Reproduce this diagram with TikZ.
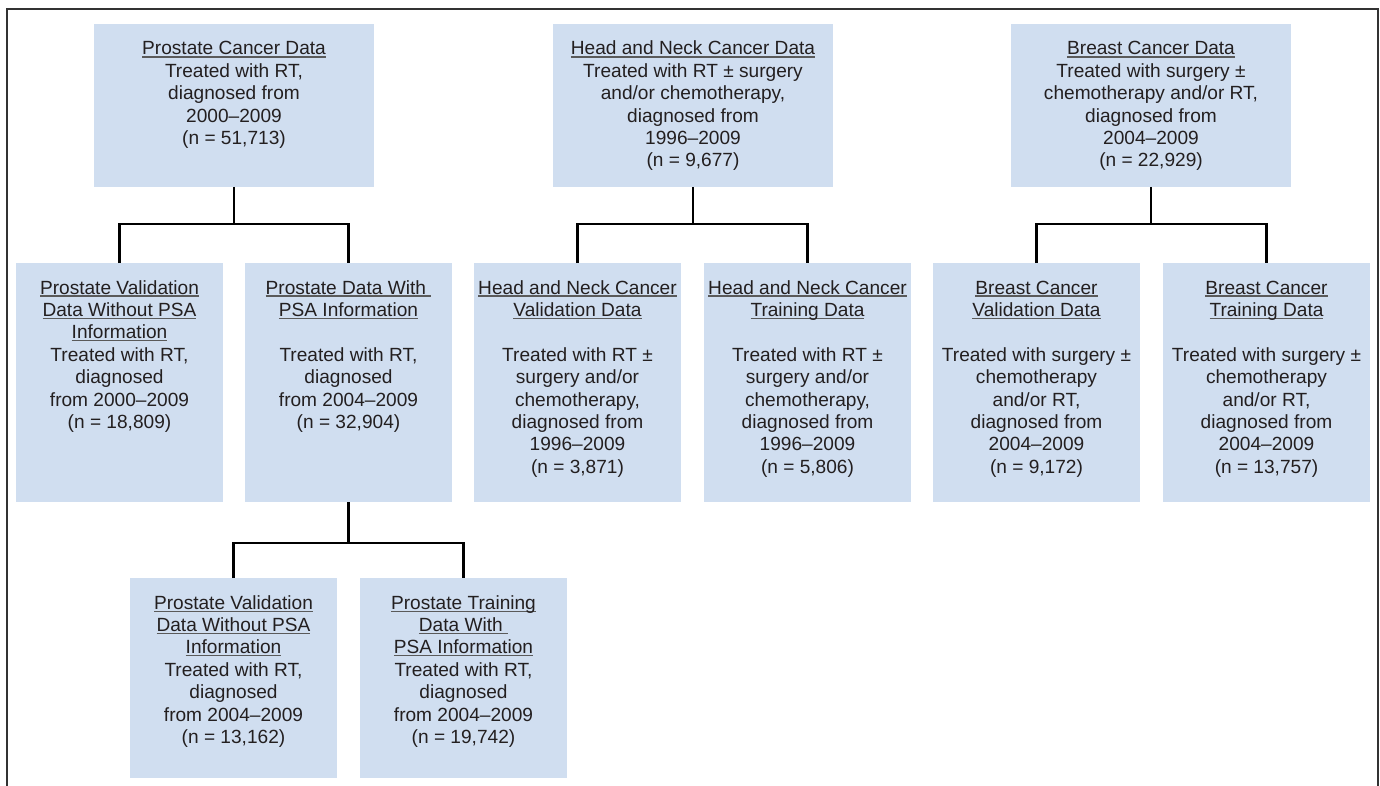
\documentclass[tikz,border=0pt]{standalone}
\usepackage{fontspec}
\setmainfont{Liberation Sans}
\usetikzlibrary{calc}
\definecolor{boxblue}{RGB}{208,222,240}
\definecolor{txt}{RGB}{35,31,32}
\definecolor{ulgray}{RGB}{90,90,90}
\definecolor{framegray}{RGB}{50,50,50}
\newcommand{\ulx}[1]{\leavevmode\setbox0\hbox{#1}\rlap{\textcolor{ulgray}{\rule[-2.6pt]{\wd0}{1.1pt}}}\box0}
\newcommand{\bxt}[3]{\parbox[t][#2][t]{#1}{\centering\fontsize{19.1pt}{22.4pt}\selectfont\rule{0pt}{31pt}#3}}
\tikzset{
  bx/.style={fill=boxblue, inner sep=0pt, outer sep=0pt, anchor=north west, text=txt},
  conn/.style={line width=2.4pt, black},
  framel/.style={line width=1.5pt, framegray}
}
\begin{document}
\begin{tikzpicture}[x=1pt,y=-1pt]
\useasboundingbox (0,0) rectangle (1380,786);
\draw[framel] (7,786) -- (7,9) -- (1378,9) -- (1378,786);

% top level
\node[bx] (ptop) at (94,24) {\bxt{280pt}{163pt}{\ulx{Prostate Cancer Data}\\Treated with RT,\\diagnosed from\\2000–2009\\(n = 51,713)}};
\node[bx] (htop) at (553,24) {\bxt{280pt}{163pt}{\ulx{Head and Neck Cancer Data}\\Treated with RT ± surgery\\and/or chemotherapy,\\diagnosed from\\1996–2009\\(n = 9,677)}};
\node[bx] (btop) at (1011,24) {\bxt{280pt}{163pt}{\ulx{Breast Cancer Data}\\Treated with surgery ±\\chemotherapy and/or RT,\\diagnosed from\\2004–2009\\(n = 22,929)}};

% second level
\node[bx] (pv) at (16,263) {\bxt{207pt}{239pt}{\ulx{Prostate Validation}\\\ulx{Data Without PSA}\\\ulx{Information}\\Treated with RT,\\diagnosed\\from 2000–2009\\(n = 18,809)}};
\node[bx] (pd) at (245,263) {\bxt{207pt}{239pt}{\ulx{Prostate Data With\ }\\\ulx{PSA Information}\\\mbox{}\\Treated with RT,\\diagnosed\\from 2004–2009\\(n = 32,904)}};
\node[bx] (hv) at (474,263) {\bxt{207pt}{239pt}{\ulx{Head and Neck Cancer}\\\ulx{Validation Data}\\\mbox{}\\Treated with RT ±\\surgery and/or\\chemotherapy,\\diagnosed from\\1996–2009\\(n = 3,871)}};
\node[bx] (ht) at (704,263) {\bxt{207pt}{239pt}{\ulx{Head and Neck Cancer}\\\ulx{Training Data}\\\mbox{}\\Treated with RT ±\\surgery and/or\\chemotherapy,\\diagnosed from\\1996–2009\\(n = 5,806)}};
\node[bx] (bv) at (933,263) {\bxt{207pt}{239pt}{\ulx{Breast Cancer}\\\ulx{Validation Data}\\\mbox{}\\Treated with surgery ±\\chemotherapy\\and/or RT,\\diagnosed from\\2004–2009\\(n = 9,172)}};
\node[bx] (bt) at (1163,263) {\bxt{207pt}{239pt}{\ulx{Breast Cancer}\\\ulx{Training Data}\\\mbox{}\\Treated with surgery ±\\chemotherapy\\and/or RT,\\diagnosed from\\2004–2009\\(n = 13,757)}};

% third level
\node[bx] (p3v) at (130,578) {\bxt{207pt}{200pt}{\ulx{Prostate Validation}\\\ulx{Data Without PSA}\\\ulx{Information}\\Treated with RT,\\diagnosed\\from 2004–2009\\(n = 13,162)}};
\node[bx] (p3t) at (360,578) {\bxt{207pt}{200pt}{\ulx{Prostate Training}\\\ulx{Data With\ }\\\ulx{PSA Information}\\Treated with RT,\\diagnosed\\from 2004–2009\\(n = 19,742)}};

% connectors
\coordinate (pj) at ($(ptop.south)+(0,37)$);
\coordinate (hj) at ($(htop.south)+(0,37)$);
\coordinate (bj) at ($(btop.south)+(0,37)$);
\coordinate (dj) at ($(pd.south)+(0,41)$);
\draw[conn] (ptop.south) -- (pj);
\draw[conn] (pv.north) |- (pj) -| (pd.north);
\draw[conn] (htop.south) -- (hj);
\draw[conn] (hv.north) |- (hj) -| (ht.north);
\draw[conn] (btop.south) -- (bj);
\draw[conn] (bv.north) |- (bj) -| (bt.north);
\draw[conn] (pd.south) -- (dj);
\draw[conn] (p3v.north) |- (dj) -| (p3t.north);
\end{tikzpicture}
\end{document}
